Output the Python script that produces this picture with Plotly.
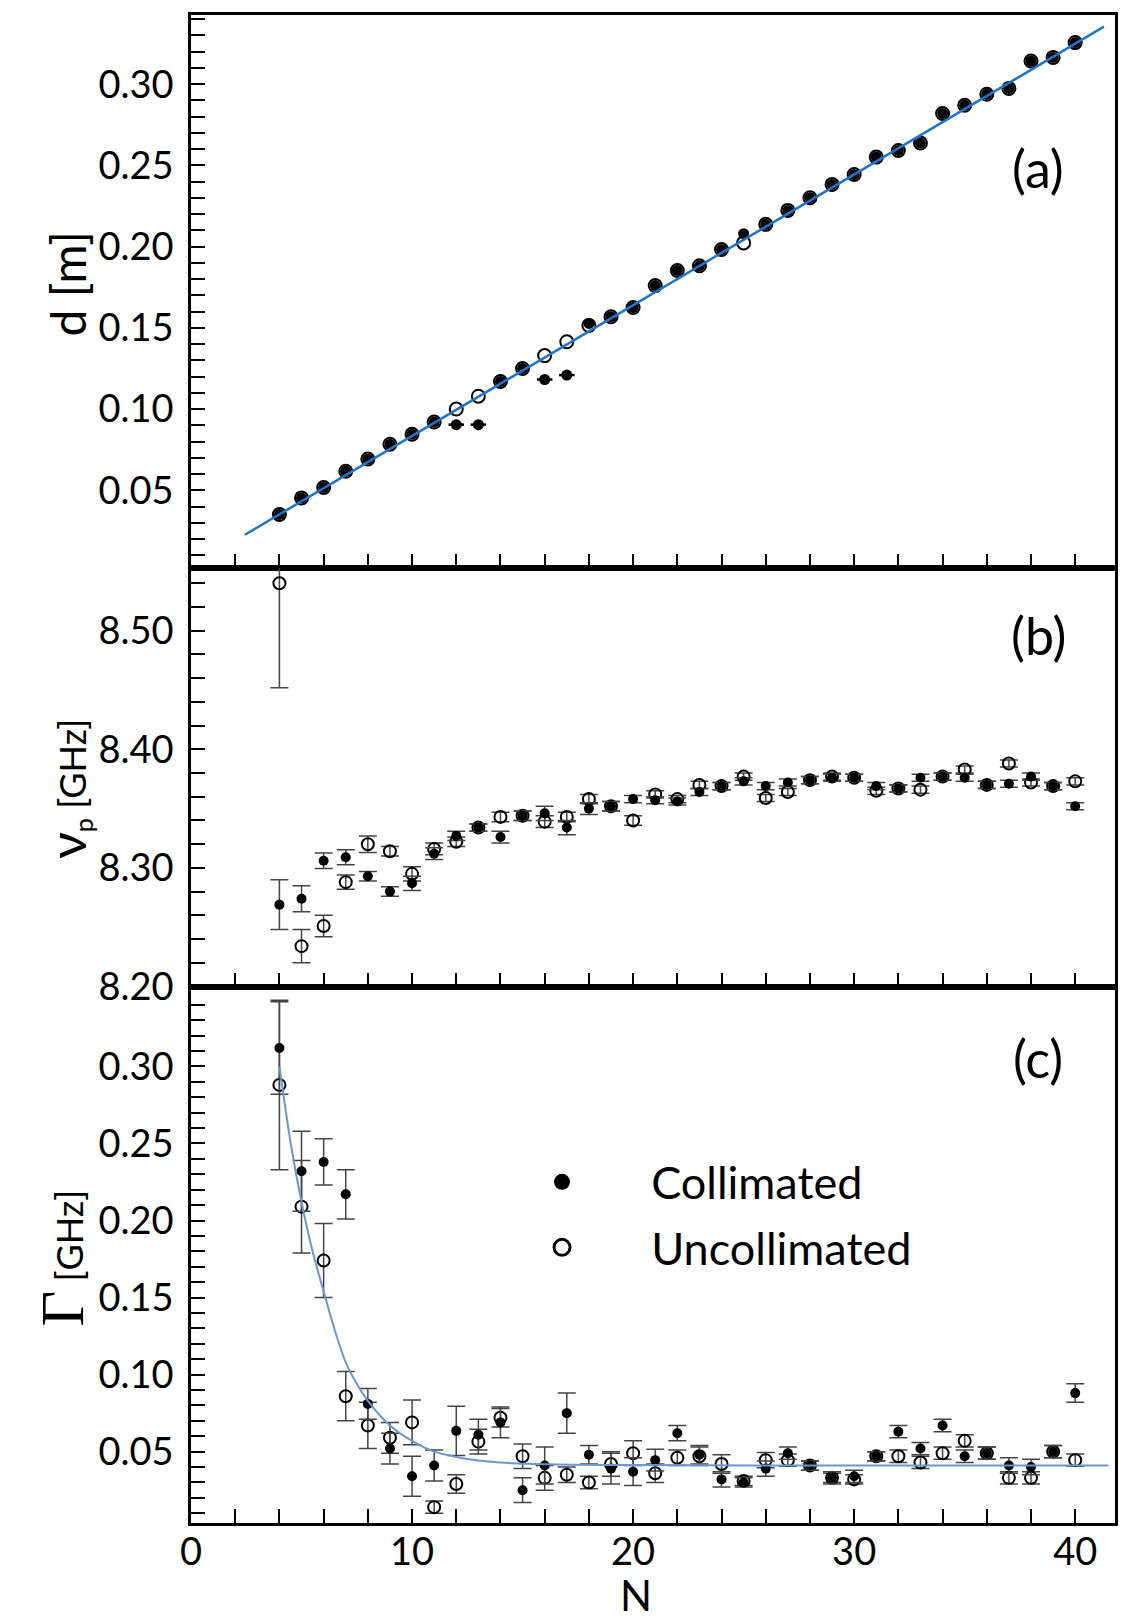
import plotly.graph_objects as go
from plotly.subplots import make_subplots

# ---------------- data ----------------
N = list(range(4, 41))

# panel (a): distance d [m]
d_coll = [0.0351, 0.0453, 0.0517, 0.0617, 0.0692, 0.0783, 0.0845, 0.0920, 0.0904, 0.0904,
          0.1170, 0.1250, 0.1182, 0.1209, 0.1527, 0.1568, 0.1625, 0.1760, 0.1853, 0.1882,
          0.1982, 0.2080, 0.2137, 0.2223, 0.2301, 0.2383, 0.2444, 0.2551, 0.2592, 0.2638,
          0.2820, 0.2870, 0.2938, 0.2974, 0.3143, 0.3165, 0.3256]
d_coll_xerr = [0, 0, 0, 0, 0, 0, 0, 0, 0.35, 0.35, 0, 0, 0.35, 0.35, 0, 0, 0, 0, 0, 0,
               0, 0, 0, 0, 0, 0, 0, 0, 0, 0, 0, 0, 0, 0, 0, 0, 0]
d_unc = [0.0351, 0.0453, 0.0517, 0.0617, 0.0692, 0.0783, 0.0845, 0.0920, 0.1000, 0.1079,
         0.1170, 0.1250, 0.1329, 0.1414, 0.1515, 0.1568, 0.1625, 0.1760, 0.1853, 0.1882,
         0.1982, 0.2023, 0.2137, 0.2223, 0.2301, 0.2383, 0.2444, 0.2551, 0.2592, 0.2638,
         0.2820, 0.2870, 0.2938, 0.2974, 0.3143, 0.3165, 0.3256]
fit_a_N = [2.44, 41.3]
fit_a_d = [0.0226, 0.3354]

# panel (b): peak frequency [GHz]
nu_coll = [8.269, 8.274, 8.306, 8.309, 8.293, 8.280, 8.287, 8.312, 8.327, 8.334,
           8.326, 8.344, 8.346, 8.334, 8.350, 8.352, 8.358, 8.357, 8.356, 8.364,
           8.369, 8.373, 8.369, 8.372, 8.374, 8.376, 8.376, 8.369, 8.367, 8.376,
           8.377, 8.376, 8.370, 8.371, 8.377, 8.369, 8.352]
nu_coll_err = [0.021, 0.011, 0.0065, 0.0064, 0.004, 0.004, 0.006, 0.005, 0.004, 0.003,
               0.005, 0.004, 0.006, 0.006, 0.005, 0.004, 0.003, 0.003, 0.003, 0.003,
               0.003, 0.003, 0.003, 0.003, 0.003, 0.003, 0.003, 0.003, 0.003, 0.003,
               0.003, 0.003, 0.003, 0.003, 0.003, 0.003, 0.003]
nu_unc = [8.540, 8.234, 8.251, 8.288, 8.320, 8.314, 8.295, 8.316, 8.322, 8.334,
          8.343, 8.344, 8.339, 8.343, 8.358, 8.352, 8.340, 8.362, 8.358, 8.370,
          8.369, 8.377, 8.359, 8.364, 8.374, 8.377, 8.376, 8.365, 8.367, 8.366,
          8.377, 8.383, 8.370, 8.388, 8.372, 8.369, 8.373]
nu_unc_err = [0.088, 0.014, 0.009, 0.006, 0.007, 0.004, 0.006, 0.005, 0.004, 0.003,
              0.004, 0.004, 0.005, 0.004, 0.004, 0.004, 0.004, 0.003, 0.003, 0.003,
              0.003, 0.003, 0.003, 0.003, 0.003, 0.003, 0.003, 0.003, 0.003, 0.003,
              0.003, 0.003, 0.003, 0.003, 0.003, 0.003, 0.003]

# panel (c): linewidth Gamma [GHz]
g_coll = [0.312, 0.232, 0.238, 0.217, 0.081, 0.052, 0.034, 0.041, 0.0635, 0.061,
          0.069, 0.025, 0.041, 0.075, 0.048, 0.039, 0.037, 0.0445, 0.062, 0.048,
          0.032, 0.030, 0.039, 0.049, 0.041, 0.033, 0.034, 0.047, 0.063, 0.052,
          0.067, 0.047, 0.049, 0.041, 0.040, 0.050, 0.088]
g_coll_err = [0.030, 0.026, 0.015, 0.016, 0.010, 0.010, 0.013, 0.010, 0.016, 0.010,
              0.010, 0.008, 0.012, 0.013, 0.006, 0.010, 0.009, 0.007, 0.005, 0.006,
              0.005, 0.003, 0.005, 0.004, 0.003, 0.004, 0.004, 0.003, 0.004, 0.004,
              0.004, 0.004, 0.004, 0.005, 0.005, 0.004, 0.006]
g_unc = [0.288, 0.209, 0.174, 0.086, 0.067, 0.059, 0.069, 0.014, 0.029, 0.0565,
         0.072, 0.047, 0.033, 0.035, 0.030, 0.042, 0.049, 0.036, 0.046, 0.047,
         0.042, 0.031, 0.0445, 0.0445, 0.041, 0.033, 0.032, 0.047, 0.047, 0.043,
         0.049, 0.057, 0.049, 0.033, 0.033, 0.050, 0.0445]
g_unc_err = [0.055, 0.030, 0.024, 0.016, 0.015, 0.010, 0.0145, 0.004, 0.006, 0.008,
             0.006, 0.008, 0.008, 0.005, 0.004, 0.008, 0.008, 0.006, 0.005, 0.006,
             0.006, 0.003, 0.005, 0.004, 0.003, 0.003, 0.003, 0.003, 0.004, 0.004,
             0.004, 0.004, 0.004, 0.004, 0.004, 0.004, 0.004]
fit_c_N = [4, 4.5, 5, 5.5, 6, 6.5, 7, 7.5, 8, 9, 10, 11, 12, 13, 14, 16, 20, 30, 41.5]
fit_c_g = [0.300, 0.251, 0.212, 0.180, 0.154, 0.129, 0.108, 0.094, 0.083, 0.067,
           0.057, 0.050, 0.0466, 0.0443, 0.043, 0.0418, 0.0413, 0.041, 0.041]

y_ticks_a = [0.05, 0.10, 0.15, 0.20, 0.25, 0.30]
y_ticks_b = [8.20, 8.30, 8.40, 8.50]
y_ticks_c = [0.05, 0.10, 0.15, 0.20, 0.25, 0.30]
x_ticks = [0, 10, 20, 30, 40]
legend_names = ["Collimated", "Uncollimated"]

# ---------------- figure ----------------
FONT = "Lato"
fig = make_subplots(rows=3, cols=1, shared_xaxes=True, vertical_spacing=0,
                    row_heights=[554, 420, 537])

ERR = dict(color="#444444", thickness=1.5, width=9)
filled = dict(symbol="circle", size=10, color="black")
opened = dict(symbol="circle-open", size=12, color="black", line=dict(width=2, color="black"))

# (a)
fig.add_trace(go.Scatter(x=N, y=d_unc, mode="markers", marker=dict(opened, size=13),
                         showlegend=False), row=1, col=1)
fig.add_trace(go.Scatter(x=N, y=d_coll, mode="markers", marker=dict(filled, size=11),
                         error_x=dict(type="data", array=d_coll_xerr, color="black",
                                      thickness=2.5, width=0),
                         showlegend=False), row=1, col=1)
fig.add_trace(go.Scatter(x=fit_a_N, y=fit_a_d, mode="lines",
                         line=dict(color="#1f74cc", width=2.5), showlegend=False),
              row=1, col=1)

# (b)
fig.add_trace(go.Scatter(x=N, y=nu_unc, mode="markers", marker=opened,
                         error_y=dict(type="data", array=nu_unc_err, **ERR),
                         showlegend=False), row=2, col=1)
fig.add_trace(go.Scatter(x=N, y=nu_coll, mode="markers", marker=filled,
                         error_y=dict(type="data", array=nu_coll_err, **ERR),
                         showlegend=False), row=2, col=1)

# (c)
fig.add_trace(go.Scatter(x=N, y=g_unc, mode="markers", marker=opened,
                         error_y=dict(type="data", array=g_unc_err, **ERR),
                         showlegend=False), row=3, col=1)
fig.add_trace(go.Scatter(x=N, y=g_coll, mode="markers", marker=filled,
                         error_y=dict(type="data", array=g_coll_err, **ERR),
                         showlegend=False), row=3, col=1)
fig.add_trace(go.Scatter(x=fit_c_N, y=fit_c_g, mode="lines",
                         line=dict(color="#6a96d4", width=2, shape="spline", smoothing=0.8),
                         showlegend=False), row=3, col=1)

# legend entries
pad = "\u00a0" * 6
fig.add_trace(go.Scatter(x=[None], y=[None], mode="markers", name=pad + legend_names[0],
                         marker=dict(symbol="circle", size=16, color="black"),
                         legendgroup="g1"), row=3, col=1)
fig.add_trace(go.Scatter(x=[None], y=[None], mode="markers", name=pad + legend_names[1],
                         marker=dict(symbol="circle-open", size=16, color="black",
                                     line=dict(width=3, color="black")),
                         legendgroup="g2"), row=3, col=1)

axis_common = dict(showline=True, linecolor="black", linewidth=2.5, mirror=True,
                   ticks="inside", ticklen=14, tickwidth=2, tickcolor="black",
                   showgrid=False, zeroline=False,
                   tickfont=dict(family=FONT, size=38, color="black"))

for r in (1, 2, 3):
    fig.update_xaxes(axis_common, range=[0, 41.8], tickvals=x_ticks,
                     minor=dict(ticks="inside", ticklen=14, tickwidth=2, tickcolor="black",
                                dtick=2, tick0=0),
                     ticklabelstandoff=-6,
                     showticklabels=(r == 3), row=r, col=1)

minor_y = dict(ticks="inside", ticklen=14, tickwidth=2, tickcolor="black")
fig.update_yaxes(axis_common, range=[0.0022, 0.3426], tickvals=y_ticks_a, tickformat=".2f",
                 minor=dict(minor_y, dtick=0.01, tick0=0),
                 ticklabelstandoff=7, row=1, col=1)
fig.update_yaxes(axis_common, range=[8.1995, 8.553], tickvals=y_ticks_b, tickformat=".2f",
                 minor=dict(minor_y, dtick=0.02, tick0=8.2),
                 ticklabelstandoff=7, row=2, col=1)
fig.update_yaxes(axis_common, range=[0.0037, 0.3515], tickvals=y_ticks_c, tickformat=".2f",
                 minor=dict(minor_y, dtick=0.01, tick0=0),
                 ticklabelstandoff=7, row=3, col=1)

ann_font = dict(family=FONT, color="black")
annotations = [
    dict(text="(a)", x=0.9167, y=0.8987, font=dict(ann_font, size=52)),
    dict(text="(b)", x=0.9167, y=0.589, font=dict(ann_font, size=52)),
    dict(text="(c)", x=0.9167, y=0.3084, font=dict(ann_font, size=52)),
    dict(text="d [m]", x=-0.1342, y=0.822, textangle=-90, font=dict(ann_font, size=48)),
    dict(text='<span style="font-size:52px">\u03bd</span><sub>p</sub> [GHz]',
         x=-0.135, y=0.487, textangle=-90, font=dict(ann_font, size=36)),
    dict(text='<span style="font-family:Liberation Serif;font-size:62px">\u0393</span> [GHz]',
         x=-0.1396, y=0.1754, textangle=-90, font=dict(ann_font, size=36)),
    dict(text="N", x=0.4816, y=-0.048, font=dict(ann_font, size=42)),
]
for a in annotations:
    a.update(xref="paper", yref="paper", showarrow=False, xanchor="center", yanchor="middle")

# the page body adds an 8 px margin, so the figure is 8 px smaller and offset
fig.update_layout(
    width=1130, height=1614,
    margin=dict(l=183, r=23, t=4, b=99),
    paper_bgcolor="white", plot_bgcolor="white",
    font=dict(family=FONT, color="black"),
    annotations=annotations,
    showlegend=True,
    legend=dict(x=0.3799, xanchor="left", y=0.2045, yanchor="middle",
                bgcolor="rgba(0,0,0,0)", borderwidth=0,
                font=dict(family=FONT, size=45, color="black"),
                tracegroupgap=4, traceorder="grouped"),
)

fig.write_html("out.html")
